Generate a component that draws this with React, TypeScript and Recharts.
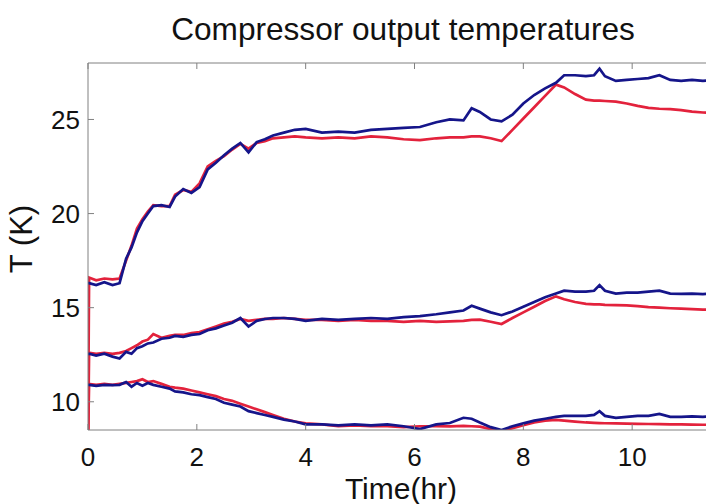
import { LineChart, Line, XAxis, YAxis } from "recharts";

// time in hours
const time = [
  0, 0.02, 0.15, 0.3, 0.45, 0.58, 0.7, 0.8, 0.9, 1.0, 1.1, 1.2, 1.35, 1.5, 1.6, 1.75, 1.9,
  2.05, 2.2, 2.35, 2.5, 2.65, 2.8, 2.95, 3.1, 3.25, 3.4, 3.6, 3.8, 4.0, 4.3, 4.6, 4.9, 5.2,
  5.5, 5.8, 6.1, 6.4, 6.65, 6.9, 7.05, 7.2, 7.4, 7.6, 7.8, 8.0, 8.2, 8.4, 8.6, 8.75, 8.95,
  9.15, 9.3, 9.4, 9.5, 9.7, 9.9, 10.1, 10.3, 10.5, 10.7, 10.9, 11.1, 11.3, 11.5, 11.8, 12.0,
];

const upperRed = [
  8.0, 16.6, 16.45, 16.55, 16.5, 16.55, 17.5, 18.3, 19.2, 19.7, 20.1, 20.45, 20.4, 20.4, 21.0, 21.25, 21.15,
  21.6, 22.5, 22.8, 23.05, 23.4, 23.7, 23.45, 23.75, 23.85, 24.0, 24.05, 24.1, 24.05, 24.0, 24.05, 24.0, 24.1,
  24.05, 23.95, 23.9, 24.0, 24.05, 24.05, 24.1, 24.1, 24.0, 23.85, 24.45, 25.05, 25.65, 26.25, 26.85, 26.7, 26.35,
  26.05, 26.0, 26.0, 25.98, 25.95, 25.85, 25.72, 25.62, 25.57, 25.55, 25.5, 25.42, 25.37, 25.35, 25.3, 25.28,
];

const upperBlue = [
  16.3, 16.3, 16.2, 16.35, 16.2, 16.3, 17.6, 18.2, 19.0, 19.6, 20.0, 20.4, 20.45, 20.35, 20.9, 21.3, 21.1,
  21.4, 22.35, 22.7, 23.1, 23.45, 23.75, 23.25, 23.8, 23.95, 24.15, 24.3, 24.45, 24.5, 24.3, 24.35, 24.3, 24.45,
  24.5, 24.55, 24.6, 24.85, 25.0, 24.95, 25.6, 25.4, 25.0, 24.9, 25.25, 25.85, 26.3, 26.65, 26.95, 27.35, 27.35,
  27.3, 27.35, 27.7, 27.3, 27.05, 27.1, 27.15, 27.2, 27.35, 27.1, 27.05, 27.1, 27.05, 27.1, 27.05, 27.1,
];

const middleRed = [
  8.0, 12.6, 12.55, 12.6, 12.55, 12.6, 12.7, 12.85, 13.0, 13.2, 13.3, 13.6, 13.4, 13.5, 13.55, 13.55, 13.65,
  13.7, 13.85, 14.0, 14.15, 14.25, 14.4, 14.3, 14.35, 14.4, 14.4, 14.45, 14.4, 14.35, 14.35, 14.3, 14.35, 14.3,
  14.3, 14.25, 14.3, 14.25, 14.27, 14.3, 14.35, 14.36, 14.25, 14.13, 14.45, 14.75, 15.05, 15.35, 15.6, 15.45, 15.3,
  15.2, 15.18, 15.17, 15.15, 15.13, 15.12, 15.08, 15.03, 15.0, 14.97, 14.95, 14.92, 14.9, 14.88, 14.86, 14.85,
];

const middleBlue = [
  12.5, 12.55, 12.45, 12.55, 12.4, 12.3, 12.65, 12.55, 12.85, 12.95, 13.1, 13.15, 13.35, 13.4, 13.5, 13.45, 13.55,
  13.6, 13.8, 13.9, 14.05, 14.2, 14.45, 14.0, 14.3, 14.4, 14.45, 14.45, 14.4, 14.3, 14.4, 14.35, 14.4, 14.45,
  14.4, 14.5, 14.55, 14.65, 14.75, 14.85, 15.1, 14.95, 14.75, 14.6, 14.8, 15.05, 15.3, 15.55, 15.75, 15.9, 15.85,
  15.85, 15.9, 16.2, 15.9, 15.75, 15.8, 15.8, 15.85, 15.9, 15.75, 15.73, 15.75, 15.72, 15.75, 15.72, 15.75,
];

const lowerRed = [
  8.0, 10.95, 10.9, 10.95, 10.9, 10.95, 11.0, 11.05, 11.1, 11.2, 11.05, 11.1, 10.95, 10.8, 10.75, 10.7, 10.6,
  10.5, 10.4, 10.3, 10.15, 10.05, 9.9, 9.75, 9.6, 9.45, 9.3, 9.1, 8.95, 8.85, 8.8, 8.7, 8.75, 8.7,
  8.7, 8.65, 8.7, 8.7, 8.69, 8.72, 8.7, 8.68, 8.55, 8.42, 8.6, 8.75, 8.9, 9.0, 9.04, 9.0, 8.95,
  8.9, 8.88, 8.87, 8.86, 8.85, 8.84, 8.83, 8.82, 8.81, 8.8, 8.8, 8.79, 8.78, 8.78, 8.77, 8.77,
];

const lowerBlue = [
  10.9, 10.9, 10.85, 10.9, 10.88, 10.9, 11.05, 10.8, 11.0, 10.85, 11.0, 10.9, 10.8, 10.7, 10.55, 10.5, 10.4,
  10.35, 10.25, 10.15, 9.95, 9.85, 9.75, 9.5, 9.4, 9.3, 9.2, 9.05, 8.95, 8.8, 8.8, 8.75, 8.8, 8.75,
  8.8, 8.7, 8.55, 8.8, 8.87, 9.15, 9.1, 8.9, 8.65, 8.5, 8.7, 8.85, 9.0, 9.1, 9.2, 9.25, 9.25,
  9.25, 9.3, 9.5, 9.25, 9.15, 9.2, 9.25, 9.25, 9.35, 9.2, 9.2, 9.22, 9.2, 9.22, 9.2, 9.22,
];

const xTicks = [0, 2, 4, 6, 8, 10];
const yTicks = [10, 15, 20, 25];

const data = time.map((t, i) => ({
  t,
  upperRed: upperRed[i],
  upperBlue: upperBlue[i],
  middleRed: middleRed[i],
  middleBlue: middleBlue[i],
  lowerRed: lowerRed[i],
  lowerBlue: lowerBlue[i],
}));

const RED = "#e3223c";
const BLUE = "#15158a";
const AXIS = "#808080";
const FONT = "'Liberation Sans', Arial, Helvetica, sans-serif";

const BottomTick = ({ x, y, payload }: any) => (
  <g>
    <line x1={x} x2={x} y1={y - 18} y2={y - 24} stroke={AXIS} />
    <text x={x} y={y} dy="0.71em" textAnchor="middle" fontSize={26} fill="#111" fontFamily={FONT}>
      {payload.value}
    </text>
  </g>
);

const TopTick = ({ x, y }: any) => (
  <line x1={x} x2={x} y1={y} y2={y + 6} stroke={AXIS} />
);

const LeftTick = ({ x, y, payload }: any) => (
  <g>
    <line x1={x + 8} x2={x + 14} y1={y} y2={y} stroke={AXIS} />
    <text x={x} y={y} dy="0.355em" textAnchor="end" fontSize={26} fill="#111" fontFamily={FONT}>
      {payload.value}
    </text>
  </g>
);

const series = [
  { key: "upperRed", color: RED },
  { key: "middleRed", color: RED },
  { key: "lowerRed", color: RED },
  { key: "upperBlue", color: BLUE },
  { key: "middleBlue", color: BLUE },
  { key: "lowerBlue", color: BLUE },
];

export default function App() {
  return (
    <div
      style={{
        position: "fixed",
        left: 0,
        top: 0,
        width: 706,
        height: 504,
        overflow: "hidden",
        background: "#fff",
        fontFamily: FONT,
        color: "#111",
      }}
    >
      <div
        style={{
          position: "absolute",
          left: 103,
          top: 13,
          width: 600,
          textAlign: "center",
          fontSize: 31.6,
          lineHeight: "32px",
          whiteSpace: "nowrap",
        }}
      >
        Compressor output temperatures
      </div>
      <LineChart
        width={760}
        height={504}
        data={data}
        margin={{ top: 61, right: 19, bottom: 34, left: 0 }}
      >
        <XAxis
          dataKey="t"
          type="number"
          domain={[0, 12]}
          ticks={xTicks}
          allowDataOverflow
          height={40}
          tickSize={0}
          tickMargin={18}
          tickLine={false}
          axisLine={{ stroke: AXIS }}
          tick={<BottomTick />}
        />
        <XAxis
          xAxisId="top"
          orientation="top"
          dataKey="t"
          type="number"
          domain={[0, 12]}
          ticks={xTicks}
          allowDataOverflow
          height={2}
          tickSize={0}
          tickMargin={0}
          tickLine={false}
          axisLine={{ stroke: AXIS }}
          tick={<TopTick />}
        />
        <YAxis
          type="number"
          domain={[8.5, 28]}
          ticks={yTicks}
          allowDataOverflow
          width={88}
          tickSize={0}
          tickMargin={8}
          tickLine={false}
          axisLine={{ stroke: AXIS }}
          tick={<LeftTick />}
        />
        {series.map((s) => (
          <Line
            key={s.key}
            dataKey={s.key}
            stroke={s.color}
            strokeWidth={2.7}
            dot={false}
            activeDot={false}
            type="linear"
            isAnimationActive={false}
          />
        ))}
      </LineChart>
      <div
        style={{
          position: "absolute",
          left: 251,
          top: 474,
          width: 300,
          textAlign: "center",
          fontSize: 30,
          lineHeight: "30px",
        }}
      >
        Time(hr)
      </div>
      <div
        style={{
          position: "absolute",
          left: -78,
          top: 224,
          width: 200,
          height: 30,
          textAlign: "center",
          fontSize: 31,
          lineHeight: "30px",
          transform: "rotate(-90deg)",
          transformOrigin: "center",
        }}
      >
        T (K)
      </div>
    </div>
  );
}
